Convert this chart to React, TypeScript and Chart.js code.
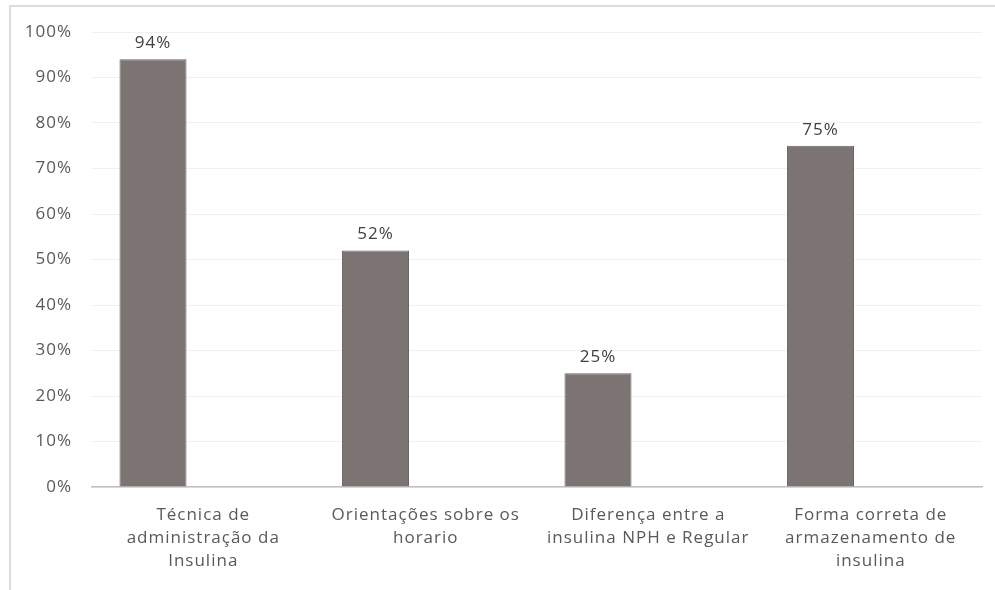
import React, { useEffect, useRef } from "react";
import { Chart, registerables } from "chart.js";

Chart.register(...registerables);

const categories: string[][] = [
  ["Técnica de", "administração da", "Insulina"],
  ["Orientações sobre os", "horario"],
  ["Diferença entre a", "insulina NPH e Regular"],
  ["Forma correta de", "armazenamento de", "insulina"],
];
const values: number[] = [94, 52, 25, 75];
const emptySeries: (number | null)[] = [null, null, null, null];
const yTickMax = 100;
const yTickStep = 10;

const FONT = "'Open Sans', 'DejaVu Sans', sans-serif";
const SPACING = "1px";

const letterSpacing = {
  id: "letterSpacing",
  beforeUpdate(chart: any) {
    chart.ctx.letterSpacing = SPACING;
  },
  beforeLayout(chart: any) {
    chart.ctx.letterSpacing = SPACING;
  },
  beforeDraw(chart: any) {
    chart.ctx.letterSpacing = SPACING;
  },
};

const valueLabels = {
  id: "valueLabels",
  afterDatasetsDraw(chart: any) {
    const ctx = chart.ctx;
    const meta = chart.getDatasetMeta(0);
    ctx.save();
    ctx.letterSpacing = SPACING;
    ctx.fillStyle = "#404040";
    ctx.font = `17px ${FONT}`;
    ctx.textAlign = "center";
    ctx.textBaseline = "middle";
    meta.data.forEach((bar: any, i: number) => {
      const v = values[i];
      ctx.fillText(`${v}%`, bar.x, bar.y - 16);
    });
    ctx.restore();
  },
};

export default function App() {
  const ref = useRef<HTMLCanvasElement>(null);
  useEffect(() => {
    if (!ref.current) return;
    const chart = new Chart(ref.current, {
      type: "bar",
      data: {
        labels: categories,
        datasets: [
          {
            data: values,
            backgroundColor: "#7b7473",
            borderColor: "#6c6665",
            borderWidth: 1,
            barPercentage: 0.667,
            categoryPercentage: 0.9035,
          },
          {
            data: emptySeries,
            backgroundColor: "transparent",
            barPercentage: 0.667,
            categoryPercentage: 0.9035,
          },
        ],
      },
      options: {
        animation: false,
        responsive: false,
        maintainAspectRatio: false,
        layout: { padding: { left: 0, right: 13, top: 32, bottom: 0 } },
        plugins: {
          legend: { display: false },
          tooltip: { enabled: false },
          title: { display: false },
        },
        scales: {
          x: {
            grid: { display: false, drawTicks: false },
            border: { display: true, color: "#bfbfbf", width: 1.5 },
            ticks: {
              color: "#595959",
              font: { family: FONT, size: 17, lineHeight: 1.35 },
              padding: 17,
              maxRotation: 0,
              autoSkip: false,
            },
            afterFit(scale: any) {
              scale.height = 103;
            },
          },
          y: {
            min: 0,
            max: yTickMax,
            grid: { color: "#f0f0f0", drawTicks: false },
            border: { display: false },
            ticks: {
              stepSize: yTickStep,
              color: "#595959",
              font: { family: FONT, size: 17 },
              padding: 20,
              callback: (v: any) => `${v}%`,
            },
            afterFit(scale: any) {
              scale.width = 92;
            },
          },
        },
      },
      plugins: [letterSpacing, valueLabels],
    } as any);
    return () => chart.destroy();
  }, []);

  return (
    <div style={{ position: "absolute", left: 0, top: 0, width: 995, height: 590, background: "#fff" }}>
      <div
        style={{
          position: "absolute",
          left: 9,
          top: 5,
          width: 986,
          height: 585,
          borderTop: "2px solid #dcdcdc",
          borderLeft: "2px solid #dcdcdc",
          boxSizing: "border-box",
        }}
      />
      <canvas ref={ref} width={995} height={590} style={{ position: "absolute", left: 0, top: 0 }} />
    </div>
  );
}
